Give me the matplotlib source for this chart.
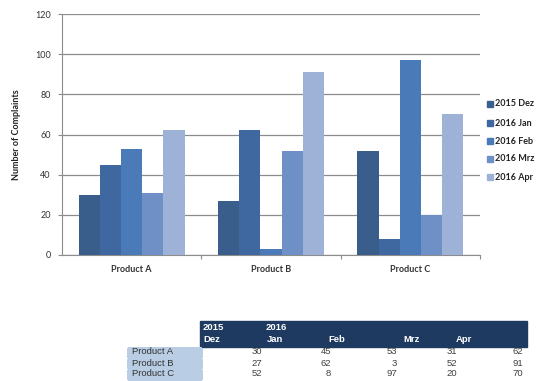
import matplotlib
matplotlib.use("Agg")
import matplotlib.pyplot as plt
import numpy as np
from matplotlib.patches import Rectangle

categories = ["Product A", "Product B", "Product C"]
series_names = ["2015 Dez", "2016 Jan", "2016 Feb", "2016 Mrz", "2016 Apr"]
dez = [30, 27, 52]
jan = [45, 62, 8]
feb = [53, 3, 97]
mrz = [31, 52, 20]
apr = [62, 91, 70]
series = [dez, jan, feb, mrz, apr]
colors = ["#3a5e8c", "#3f68a1", "#4a7ab8", "#6f90c6", "#9db2d6"]
yticks = [0, 20, 40, 60, 80, 100, 120]
table_years = ["2015", "2016"]
table_months = ["Dez", "Jan", "Feb", "Mrz", "Apr"]

W, H = 547, 381
fig = plt.figure(figsize=(W / 100, H / 100), dpi=100)
fig.patch.set_facecolor("white")

def fx(px):
    return px / W

def fy(py):
    return 1 - py / H

ax = fig.add_axes([fx(62), fy(255), fx(480) - fx(62), fy(14) - fy(255)])
x = np.arange(len(categories))
bw = 0.152
n = len(series)
for i, (vals, c, name) in enumerate(zip(series, colors, series_names)):
    ax.bar(x + (i - (n - 1) / 2) * bw, vals, width=bw, color=c, label=name,
           zorder=3, linewidth=0)

ax.set_xlim(-0.5, 2.5)
ax.set_ylim(0, 120)
ax.set_yticks(yticks)
ax.yaxis.grid(True, color="#8c8c8c", linewidth=0.9, zorder=0)
ax.set_axisbelow(True)
for s in ["top", "right"]:
    ax.spines[s].set_visible(False)
ax.spines["left"].set_color("#8c8c8c")
ax.spines["bottom"].set_color("#8c8c8c")
ax.tick_params(axis="y", length=3, color="#8c8c8c", labelsize=6.5,
               labelcolor="#333333", pad=5)
ax.set_yticklabels([str(v) for v in yticks], fontfamily="Lato")
ax.set_xticks([0.5, 1.5, 2.5], minor=False)
ax.set_xticklabels([])
ax.tick_params(axis="x", length=3, color="#8c8c8c", direction="out")
for xi, cat in zip(x, categories):
    ax.text(xi, -7, cat, ha="center", va="center", fontsize=6.5,
            fontweight="bold", color="#333333", fontfamily="Lato")
ax.set_ylabel("Number of Complaints", fontsize=6.5, fontweight="bold",
              color="#222222", fontfamily="Lato", labelpad=10)

# legend
leg_y = [104, 123, 141, 159, 177]
for yy, c, name in zip(leg_y, colors, series_names):
    fig.patches.append(Rectangle((fx(487), fy(yy + 3)), fx(6), fy(yy - 3) - fy(yy + 3),
                                 transform=fig.transFigure, color=c))
    fig.text(fx(495), fy(yy), name, ha="left", va="center", fontsize=6.5,
             fontweight="bold", color="#222222", fontfamily="Lato")

# data table
navy = "#1f3a60"
fig.patches.append(Rectangle((fx(200), fy(347)), fx(527) - fx(200), fy(321) - fy(347),
                             transform=fig.transFigure, color=navy))
tf = dict(fontsize=6.8, fontfamily="Liberation Sans")
fig.text(fx(203), fy(327), table_years[0], ha="left", va="center", color="white",
         fontweight="bold", **tf)
fig.text(fx(266), fy(327), table_years[1], ha="left", va="center", color="white",
         fontweight="bold", **tf)
month_x = [203, 267, 328, 403, 456]
for mx, m in zip(month_x, table_months):
    fig.text(fx(mx), fy(339), m, ha="left", va="center", color="white",
             fontweight="bold", **tf)

row_y = [352, 363, 374]
col_right = [262, 331, 397, 457, 523]
for r, (cat, yy) in enumerate(zip(categories, row_y)):
    fig.patches.append(Rectangle((fx(128), fy(yy + 4.5)), fx(201) - fx(128), fy(yy - 4.5) - fy(yy + 4.5),
                                 transform=fig.transFigure, color="#b9cde5",
                                 antialiased=False))
    fig.text(fx(132), fy(yy), cat, ha="left", va="center", color="#333333", **tf)
    for cx, vals in zip(col_right, series):
        fig.text(fx(cx), fy(yy), str(vals[r]), ha="right", va="center",
                 color="#404040", **tf)

fig.savefig("out.png", dpi=100)
